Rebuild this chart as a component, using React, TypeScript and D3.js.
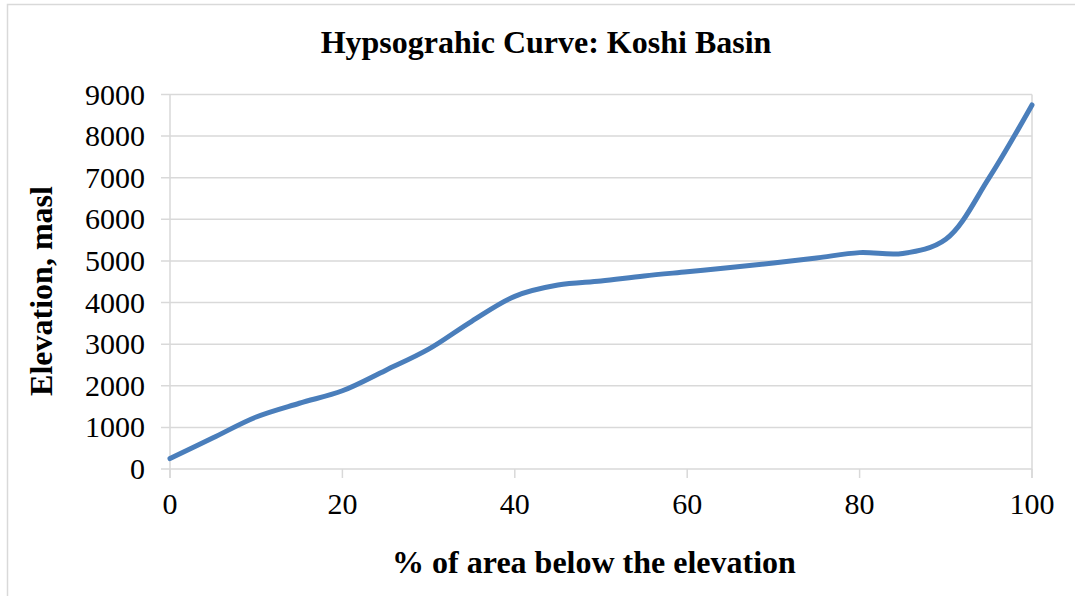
import React, { useEffect, useRef } from "react";
import * as d3 from "d3";

// % of area below the elevation
const areaPct = [0, 5, 10, 15, 20, 25, 30, 35, 40, 45, 50, 55, 60, 65, 70, 75, 80, 85, 90, 95, 100];
// elevation, masl
const elevation = [250, 750, 1250, 1580, 1880, 2370, 2880, 3550, 4150, 4420, 4520, 4640, 4740, 4840, 4950, 5070, 5200, 5180, 5520, 6990, 8750];

const xTicks = [0, 20, 40, 60, 80, 100];
const yTicks = [0, 1000, 2000, 3000, 4000, 5000, 6000, 7000, 8000, 9000];

const title = "Hypsograhic Curve: Koshi Basin";
const xTitle = "% of area below the elevation";
const yTitle = "Elevation, masl";

const WIDTH = 1075;
const HEIGHT = 596;
const FONT = "'Liberation Serif', 'Times New Roman', serif";

export default function App() {
  const ref = useRef<SVGSVGElement>(null);

  useEffect(() => {
    const svg = d3.select(ref.current);
    svg.selectAll("*").remove();

    const left = 170, right = 1032, top = 94.5, bottom = 469;
    const x = d3.scaleLinear().domain([0, 100]).range([left, right]);
    const y = d3.scaleLinear().domain([0, 9000]).range([bottom, top]);
    const grid = "#d9d9d9";

    // chart border
    svg.append("rect")
      .attr("x", 7.5).attr("y", 4.5)
      .attr("width", 1100).attr("height", 620)
      .attr("fill", "white")
      .attr("stroke", grid)
      .attr("stroke-width", 1.5);

    // horizontal gridlines + y ticks
    svg.append("g").selectAll("line")
      .data(yTicks)
      .join("line")
      .attr("x1", left - 9).attr("x2", right)
      .attr("y1", d => y(d)).attr("y2", d => y(d))
      .attr("stroke", grid)
      .attr("stroke-width", 1.5);

    // vertical edges
    [0, 100].forEach(v => {
      svg.append("line")
        .attr("x1", x(v)).attr("x2", x(v))
        .attr("y1", top).attr("y2", bottom + 9)
        .attr("stroke", grid)
        .attr("stroke-width", 1.5);
    });

    // x ticks
    svg.append("g").selectAll("line")
      .data(xTicks)
      .join("line")
      .attr("x1", d => x(d)).attr("x2", d => x(d))
      .attr("y1", bottom).attr("y2", bottom + 9)
      .attr("stroke", grid)
      .attr("stroke-width", 1.5);

    // y labels
    svg.append("g").selectAll("text")
      .data(yTicks)
      .join("text")
      .attr("x", 145)
      .attr("y", d => y(d) + 10)
      .attr("text-anchor", "end")
      .attr("font-family", FONT)
      .attr("font-size", 30)
      .text(d => d);

    // x labels
    svg.append("g").selectAll("text")
      .data(xTicks)
      .join("text")
      .attr("x", d => x(d))
      .attr("y", 514)
      .attr("text-anchor", "middle")
      .attr("font-family", FONT)
      .attr("font-size", 30)
      .text(d => d);

    // line
    const data = areaPct.map((p, i) => ({ x: p, y: elevation[i] }));
    const lineFunc = d3.line<{ x: number; y: number }>()
      .x(d => x(d.x))
      .y(d => y(d.y))
      .curve(d3.curveCatmullRom.alpha(0.5));

    svg.append("path")
      .attr("d", lineFunc(data))
      .attr("fill", "none")
      .attr("stroke", "#4a7ebb")
      .attr("stroke-width", 5)
      .attr("stroke-linecap", "round");

    // titles
    svg.append("text")
      .attr("x", 546).attr("y", 53)
      .attr("text-anchor", "middle")
      .attr("font-family", FONT)
      .attr("font-weight", "bold")
      .attr("font-size", 32)
      .text(title);

    svg.append("text")
      .attr("x", 594).attr("y", 573)
      .attr("text-anchor", "middle")
      .attr("font-family", FONT)
      .attr("font-weight", "bold")
      .attr("font-size", 32)
      .text(xTitle);

    svg.append("text")
      .attr("transform", "translate(52,291) rotate(-90)")
      .attr("text-anchor", "middle")
      .attr("font-family", FONT)
      .attr("font-weight", "bold")
      .attr("font-size", 32)
      .text(yTitle);
  }, []);

  return (
    <svg ref={ref} width={WIDTH} height={HEIGHT}
      style={{ position: "absolute", left: 0, top: 0 }} />
  );
}
